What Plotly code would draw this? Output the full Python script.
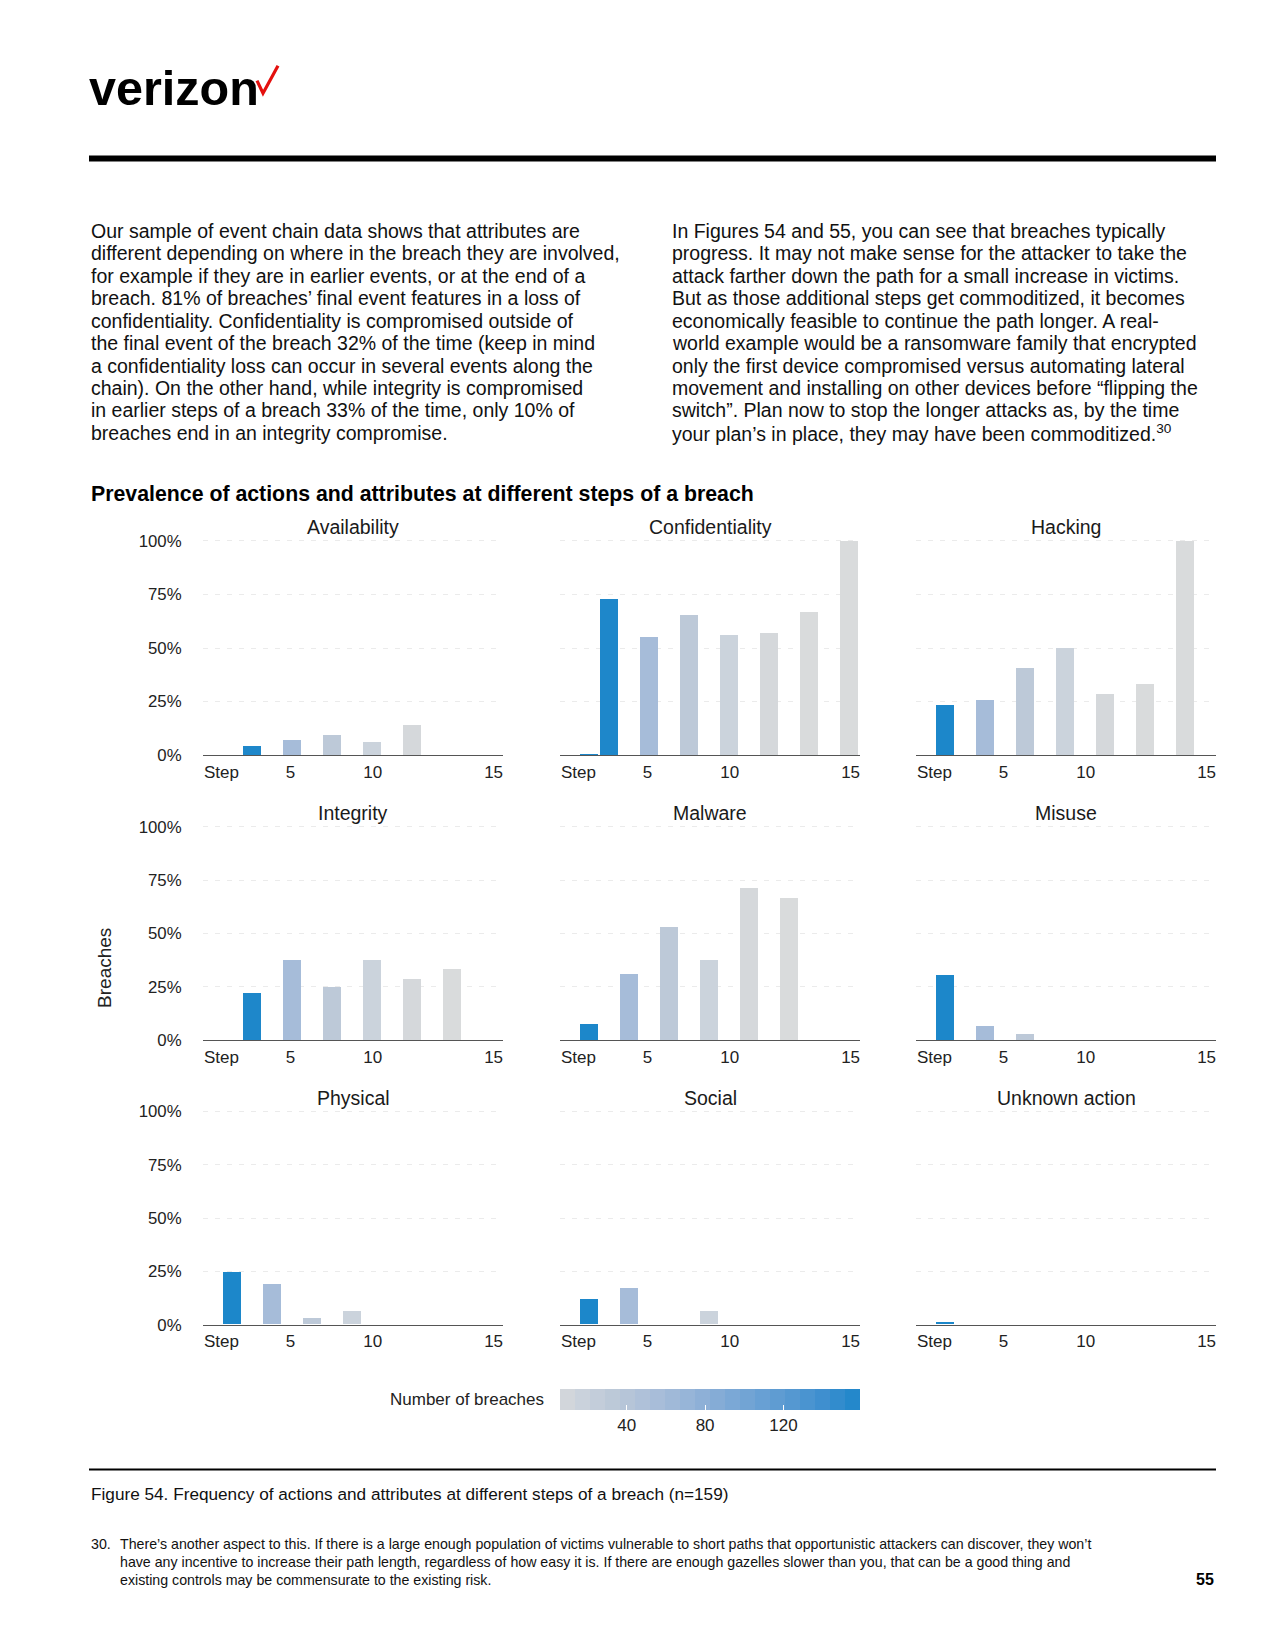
import plotly.graph_objects as go

# ---------------- data ----------------
steps = list(range(1, 15))
n_breaches = [159, 158, 58, 58, 32, 32, 16, 16, 7, 7, 6, 6, 6, 6]

availability    = [0, 4.4, 0, 6.9, 0, 9.4, 0, 6.3, 0, 14.3, 0, 0, 0, 0]
confidentiality = [0.6, 72.8, 0, 55.2, 0, 65.6, 0, 56.3, 0, 57.1, 0, 66.7, 0, 100]
hacking         = [23.3, 0, 25.9, 0, 40.6, 0, 50.0, 0, 28.6, 0, 33.3, 0, 100, 0]
integrity       = [0, 22.2, 0, 37.9, 0, 25.0, 0, 37.5, 0, 28.6, 0, 33.3, 0, 0]
malware         = [7.5, 0, 31.0, 0, 53.1, 0, 37.5, 0, 71.4, 0, 66.7, 0, 0, 0]
misuse          = [30.8, 0, 6.9, 0, 3.1, 0, 0, 0, 0, 0, 0, 0, 0, 0]
physical        = [24.5, 0, 19.0, 0, 3.1, 0, 6.3, 0, 0, 0, 0, 0, 0, 0]
social          = [11.9, 0, 17.2, 0, 0, 0, 6.3, 0, 0, 0, 0, 0, 0, 0]
unknown_action  = [1.1, 0, 0, 0, 0, 0, 0, 0, 0, 0, 0, 0, 0, 0]

panel_titles = ["Availability", "Confidentiality", "Hacking",
                "Integrity", "Malware", "Misuse",
                "Physical", "Social", "Unknown action"]
panel_values = [availability, confidentiality, hacking,
                integrity, malware, misuse,
                physical, social, unknown_action]

x_tick_text = ["Step", "5", "10", "15"]
y_tick_vals = [0, 25, 50, 75, 100]
y_tick_text = ["0%", "25%", "50%", "75%", "100%"]
legend_ticks = [40, 80, 120]

# ---------------- styling ----------------
PAGE_W, PAGE_H = 1275, 1650
OFF = 8                       # default page margin around the plot div
W, H = PAGE_W - 2 * OFF, PAGE_H - 2 * OFF
SY, DY = 1.0103, -7.45        # vertical calibration of the captured page
FONT = "Liberation Sans, Arial, sans-serif"
x_tick_pos = [0.47, 3.93, 8.04, 14.08]


def px(x):
    return (x - OFF) / W


def py(y):
    return 1 - (SY * y + DY - OFF) / H


col_left = [203, 560, 916]
col_w = 300
row_top = [540.7, 826.7, 1111.7]
row_bot = [755.0, 1040.3, 1325.3]
y_top = 100.5

cont_scale = [
    (0.0, (217, 219, 220)),
    (0.0065, (213, 216, 219)),
    (0.065, (203, 211, 220)),
    (0.17, (189, 201, 216)),
    (0.34, (166, 188, 217)),
    (0.55, (128, 170, 214)),
    (0.75, (90, 154, 210)),
    (0.9, (58, 141, 206)),
    (1.0, (28, 135, 202)),
]


def interp(t):
    for (t0, c0), (t1, c1) in zip(cont_scale[:-1], cont_scale[1:]):
        if t0 <= t <= t1:
            f = (t - t0) / (t1 - t0) if t1 > t0 else 0
            return tuple(round(a + (b - a) * f) for a, b in zip(c0, c1))
    return cont_scale[-1][1]


plotly_scale = [[t, "rgb(%d,%d,%d)" % c] for t, c in cont_scale]
nb = 20
band_scale = []
for k in range(nb):
    c = "rgb(%d,%d,%d)" % interp((k + 0.5) / nb)
    band_scale.append([k / nb, c])
    band_scale.append([(k + 1) / nb, c])

cmin, cmax = min(n_breaches), max(n_breaches)

fig = go.Figure()
layout = {}
annotations = []
for i, (title, vals) in enumerate(zip(panel_titles, panel_values)):
    r, c = divmod(i, 3)
    ax = "" if i == 0 else str(i + 1)
    fig.add_trace(go.Bar(
        x=steps, y=vals, width=0.9,
        marker=dict(color=n_breaches, colorscale=plotly_scale, cmin=cmin, cmax=cmax,
                    showscale=False, line=dict(width=0)),
        xaxis="x" + ax, yaxis="y" + ax, showlegend=False, hoverinfo="skip"))
    pxper = (row_bot[r] - row_top[r]) / 100.0
    layout["xaxis" + ax] = dict(
        domain=[px(col_left[c]), px(col_left[c] + col_w)], anchor="y" + ax,
        range=[-0.45, 14.55], tickvals=x_tick_pos, ticktext=x_tick_text,
        showline=True, linecolor="#555555", linewidth=1.3, showgrid=False,
        zeroline=False, ticks="outside", ticklen=1, tickcolor="rgba(0,0,0,0)",
        tickfont=dict(family=FONT, size=17, color="#222222"), fixedrange=True)
    layout["yaxis" + ax] = dict(
        domain=[py(row_bot[r]), py(row_top[r] - (y_top - 100) * pxper)], anchor="x" + ax,
        range=[0, y_top], tickvals=y_tick_vals, ticktext=y_tick_text,
        showticklabels=(c == 0), showgrid=True, gridcolor="#ebebeb", gridwidth=1.3,
        griddash="5px,7px", zeroline=False, showline=False,
        ticks="outside" if c == 0 else "", ticklen=17, tickcolor="rgba(0,0,0,0)",
        tickfont=dict(family=FONT, size=16.8, color="#222222"), fixedrange=True)
    annotations.append(dict(
        text=title, x=px(col_left[c] + col_w / 2), y=py(row_top[r] - 14),
        xref="paper", yref="paper", xanchor="center", yanchor="middle",
        showarrow=False, font=dict(family=FONT, size=19.5, color="#1a1a1a")))

# colour key (same count data, banded like the original key)
fig.add_trace(go.Scatter(
    x=[None], y=[None], mode="markers", xaxis="x", yaxis="y", showlegend=False,
    marker=dict(color=[cmin, cmax], cmin=cmin, cmax=cmax, colorscale=band_scale,
                showscale=True,
                colorbar=dict(orientation="h", x=px(560), xanchor="left",
                              y=py(1389.5), yanchor="top", len=300, lenmode="pixels",
                              thickness=21, thicknessmode="pixels", xpad=0, ypad=0,
                              outlinewidth=0, tickvals=legend_ticks, ticks="inside",
                              ticklen=5, tickwidth=1.3, tickcolor="white",
                              tickfont=dict(family=FONT, size=17, color="#222222")))))

annotations.append(dict(text="Number of breaches", x=px(546), y=py(1399.5),
                        xref="paper", yref="paper", xanchor="right", yanchor="middle",
                        showarrow=False, font=dict(family=FONT, size=17, color="#222222")))
annotations.append(dict(text="Breaches", x=px(105), y=py(968), textangle=-90,
                        xref="paper", yref="paper", xanchor="center", yanchor="middle",
                        showarrow=False, font=dict(family=FONT, size=19, color="#222222")))

# page text
annotations.append(dict(text="<b>verizon</b>", x=px(87), y=py(87),
                        xref="paper", yref="paper", xanchor="left", yanchor="middle",
                        showarrow=False, font=dict(family=FONT, size=48.5, color="#000000")))
annotations.append(dict(text="<b>Prevalence of actions and attributes at different steps of a breach</b>",
                        x=px(88.5), y=py(493.5), xref="paper", yref="paper",
                        xanchor="left", yanchor="middle", showarrow=False,
                        font=dict(family=FONT, size=21.3, color="#000000")))

left_lines = [
    "Our sample of event chain data shows that attributes are",
    "different depending on where in the breach they are involved,",
    "for example if they are in earlier events, or at the end of a",
    "breach. 81% of breaches’ final event features in a loss of",
    "confidentiality. Confidentiality is compromised outside of",
    "the final event of the breach 32% of the time (keep in mind",
    "a confidentiality loss can occur in several events along the",
    "chain). On the other hand, while integrity is compromised",
    "in earlier steps of a breach 33% of the time, only 10% of",
    "breaches end in an integrity compromise.",
]
right_lines = [
    "In Figures 54 and 55, you can see that breaches typically",
    "progress. It may not make sense for the attacker to take the",
    "attack farther down the path for a small increase in victims.",
    "But as those additional steps get commoditized, it becomes",
    "economically feasible to continue the path longer. A real-",
    "world example would be a ransomware family that encrypted",
    "only the first device compromised versus automating lateral",
    "movement and installing on other devices before “flipping the",
    "switch”. Plan now to stop the longer attacks as, by the time",
    "your plan’s in place, they may have been commoditized.<sup>30</sup>",
]
for j, line in enumerate(left_lines):
    annotations.append(dict(text=line, x=px(88.5), y=py(230.5 + 22.45 * j),
                            xref="paper", yref="paper", xanchor="left", yanchor="middle",
                            showarrow=False, font=dict(family=FONT, size=19.5, color="#111111")))
for j, line in enumerate(right_lines):
    annotations.append(dict(text=line, x=px(669.7), y=py(230.5 + 22.45 * j),
                            xref="paper", yref="paper", xanchor="left", yanchor="middle",
                            showarrow=False, font=dict(family=FONT, size=19.5, color="#111111")))

annotations.append(dict(text="Figure 54. Frequency of actions and attributes at different steps of a breach (n=159)",
                        x=px(88.5), y=py(1494.5), xref="paper", yref="paper",
                        xanchor="left", yanchor="middle", showarrow=False,
                        font=dict(family=FONT, size=17.2, color="#111111")))

foot_lines = [
    "There’s another aspect to this. If there is a large enough population of victims vulnerable to short paths that opportunistic attackers can discover, they won’t",
    "have any incentive to increase their path length, regardless of how easy it is. If there are enough gazelles slower than you, that can be a good thing and",
    "existing controls may be commensurate to the existing risk.",
]
annotations.append(dict(text="30.", x=px(88.5), y=py(1545), xref="paper", yref="paper",
                        xanchor="left", yanchor="middle", showarrow=False,
                        font=dict(family=FONT, size=14.2, color="#111111")))
for j, line in enumerate(foot_lines):
    annotations.append(dict(text=line, x=px(118), y=py(1545 + 17.9 * j),
                            xref="paper", yref="paper", xanchor="left", yanchor="middle",
                            showarrow=False, font=dict(family=FONT, size=14.2, color="#111111")))
annotations.append(dict(text="<b>55</b>", x=px(1216), y=py(1580.5), xref="paper", yref="paper",
                        xanchor="right", yanchor="middle", showarrow=False,
                        font=dict(family=FONT, size=16, color="#000000")))

shapes = [
    dict(type="line", xref="paper", yref="paper", x0=px(89), x1=px(1216),
         y0=py(158), y1=py(158), line=dict(color="#000000", width=6)),
    dict(type="line", xref="paper", yref="paper", x0=px(89), x1=px(1216),
         y0=py(1470), y1=py(1470), line=dict(color="#000000", width=2)),
    dict(type="path", xref="paper", yref="paper",
         path="M %f %f L %f %f L %f %f" % (px(257), py(80), px(263), py(92.5), px(278), py(65)),
         line=dict(color="#e4100e", width=3.2)),
]

fig.update_layout(
    width=W, height=H, margin=dict(l=0, r=0, t=0, b=0),
    paper_bgcolor="white", plot_bgcolor="white", bargap=0,
    annotations=annotations, shapes=shapes, **layout)

fig.write_html("out.html")
